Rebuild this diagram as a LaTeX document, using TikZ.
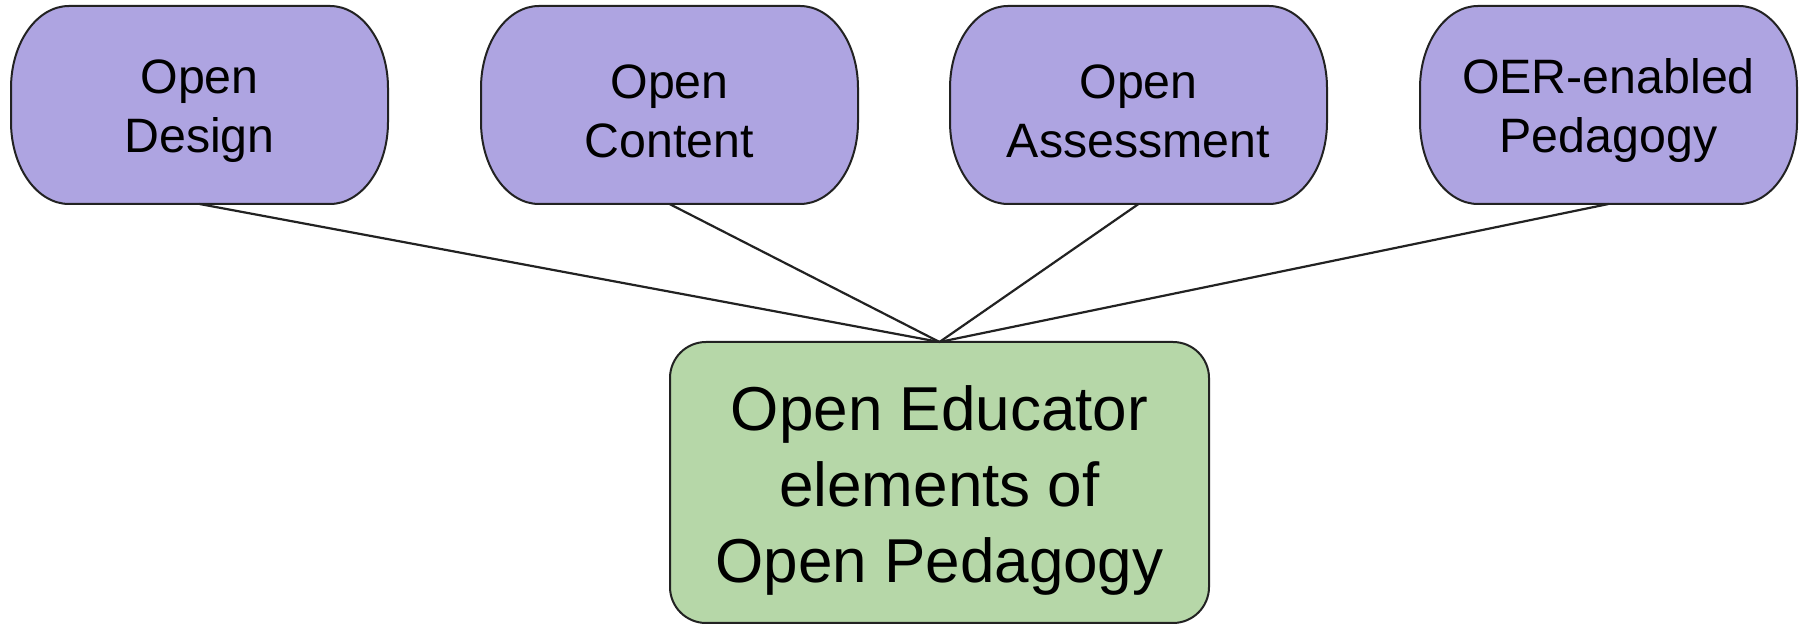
\documentclass[tikz,border=0pt]{standalone}
\usepackage{fontspec}
\setmainfont{Liberation Sans}
\definecolor{pillfill}{HTML}{AEA4E1}
\definecolor{greenfill}{HTML}{B6D7A8}
\definecolor{edgecol}{HTML}{222222}
\newcommand\pillpath[1]{%
  \draw[pillborder] ([xshift=58pt]#1.north west) -- ([xshift=-58pt]#1.north east)
    arc[start angle=90,end angle=0,x radius=58pt,y radius=82pt]
    -- ([yshift=82pt]#1.south east)
    arc[start angle=0,end angle=-90,x radius=58pt,y radius=82pt]
    -- ([xshift=58pt]#1.south west)
    arc[start angle=270,end angle=180,x radius=58pt,y radius=82pt]
    -- ([yshift=-82pt]#1.north west)
    arc[start angle=180,end angle=90,x radius=58pt,y radius=82pt] -- cycle;}
\tikzset{
  pillbox/.style={minimum width=377pt,minimum height=198pt,inner sep=0pt,outer sep=0pt,
    align=center,font=\fontsize{48.3}{59}\selectfont},
  pillborder/.style={fill=pillfill,draw=edgecol,line width=2pt},
  greenbox/.style={draw=edgecol,fill=greenfill,line width=2pt,rounded corners=36pt,
    minimum width=539pt,minimum height=281pt,inner sep=0pt,outer sep=0pt},
  greentext/.style={align=center,font=\fontsize{62}{76}\selectfont,inner sep=0pt},
  link/.style={draw=edgecol,line width=2.2pt}
}
\begin{document}
\begin{tikzpicture}[x=1pt,y=1pt]
\useasboundingbox (0,0) rectangle (1806,626);
\fill[white] (0,0) rectangle (1806,626);
\node[pillbox] (d) at (199.5,521) {};
\node[pillbox] (c) at (669.5,521) {};
\node[pillbox] (a) at (1138.5,521) {};
\node[pillbox] (p) at (1608.5,521) {};
\pillpath{d}\pillpath{c}\pillpath{a}\pillpath{p}
\node[pillbox,yshift=-6pt] at (d) {Open\\Design};
\node[pillbox,yshift=-6pt] at (c) {Open\\Content};
\node[pillbox,yshift=-6pt] at (a) {Open\\Assessment};
\node[pillbox,yshift=-6pt] at (p) {OER-enabled\\Pedagogy};
\node[greenbox] (g) at (939.5,143.5) {};
\node[greentext,yshift=-8pt] at (g) {Open Educator\\elements of\\Open Pedagogy};
\draw[link] (d.south) -- (g.north);
\draw[link] (c.south) -- (g.north);
\draw[link] (a.south) -- (g.north);
\draw[link] (p.south) -- (g.north);
\end{tikzpicture}
\end{document}
